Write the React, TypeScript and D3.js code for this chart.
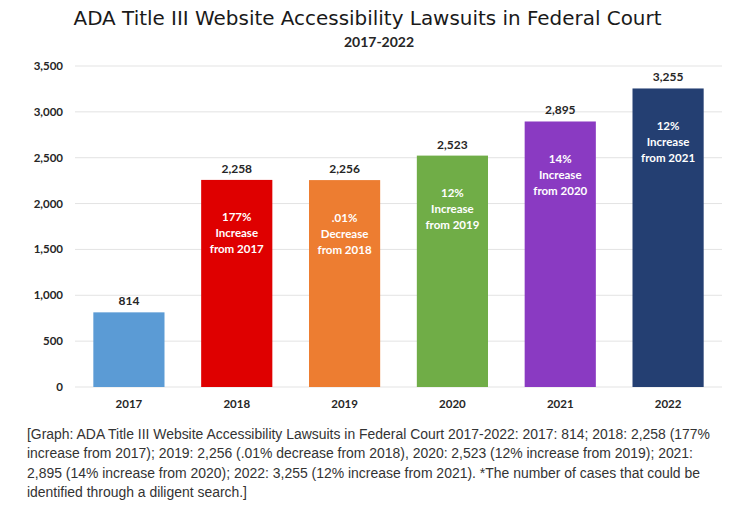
import React from "react";
import * as d3 from "d3";

const years = ["2017", "2018", "2019", "2020", "2021", "2022"];
const values = [814, 2258, 2256, 2523, 2895, 3255];
const barColors = ["#5B9BD5", "#DF0000", "#ED7D31", "#70AD47", "#8A3AC2", "#243F72"];
const noteLines: (string[] | null)[] = [
  null,
  ["177%", "Increase", "from 2017"],
  [".01%", "Decrease", "from 2018"],
  ["12%", "Increase", "from 2019"],
  ["14%", "Increase", "from 2020"],
  ["12%", "Increase", "from 2021"],
];
const yTicks = [0, 500, 1000, 1500, 2000, 2500, 3000, 3500];
const title = "ADA Title III Website Accessibility Lawsuits in Federal Court";
const subtitle = "2017-2022";
const captionLines = [
  "[Graph: ADA Title III Website Accessibility Lawsuits in Federal Court 2017-2022: 2017: 814; 2018: 2,258 (177%",
  "increase from 2017); 2019: 2,256 (.01% decrease from 2018), 2020: 2,523 (12% increase from 2019); 2021:",
  "2,895 (14% increase from 2020); 2022: 3,255 (12% increase from 2021). *The number of cases that could be",
  "identified through a diligent search.]",
];
const captionWidths = [683, 666, 673, 220];

const W = 736;
const H = 514;
const labelFont = "Lato, 'Open Sans', sans-serif";

export default function App() {
  const x = d3
    .scaleBand<string>()
    .domain(years)
    .range([75, 722])
    .paddingInner(0.34)
    .paddingOuter(0.17);
  const y = d3.scaleLinear().domain([0, 3500]).range([387, 66]);
  const fmt = d3.format(",");

  return (
    <svg
      width={W}
      height={H}
      style={{ position: "absolute", left: 0, top: 0, background: "#fff" }}
    >
      <rect x={0} y={0} width={W} height={H} fill="#fff" />
      <text
        x={367.5}
        y={25}
        textAnchor="middle"
        fontFamily="'DejaVu Sans', sans-serif"
        fontSize={20}
        fill="#1a1a1a"
        textLength={588}
        lengthAdjust="spacingAndGlyphs"
      >
        {title}
      </text>
      <text
        x={379}
        y={47}
        textAnchor="middle"
        fontFamily={labelFont}
        fontWeight="bold"
        fontSize={14}
        fill="#262626"
      >
        {subtitle}
      </text>

      {yTicks.map((t) => (
        <g key={t}>
          <line x1={75} x2={722} y1={y(t)} y2={y(t)} stroke="#e3e3e3" strokeWidth={1} />
          <text
            x={63}
            y={y(t) + 4}
            textAnchor="end"
            fontFamily={labelFont}
            fontWeight="bold"
            fontSize={11.5}
            fill="#262626"
          >
            {fmt(t)}
          </text>
        </g>
      ))}

      {years.map((yr, i) => {
        const bx = x(yr) as number;
        const bw = x.bandwidth();
        const top = y(values[i]);
        const cx = bx + bw / 2;
        const notes = noteLines[i];
        return (
          <g key={yr}>
            <rect x={bx} y={top} width={bw} height={y(0) - top} fill={barColors[i]} />
            <text
              x={cx}
              y={top - 7}
              textAnchor="middle"
              fontFamily={labelFont}
              fontWeight="bold"
              fontSize={12}
              fill="#262626"
            >
              {fmt(values[i])}
            </text>
            {notes &&
              notes.map((ln, j) => (
                <text
                  key={j}
                  x={cx}
                  y={top + 41.5 + j * 16}
                  textAnchor="middle"
                  fontFamily={labelFont}
                  fontWeight="bold"
                  fontSize={11.5}
                  fill="#ffffff"
                >
                  {ln}
                </text>
              ))}
            <text
              x={cx}
              y={408}
              textAnchor="middle"
              fontFamily={labelFont}
              fontWeight="bold"
              fontSize={11.5}
              fill="#262626"
            >
              {yr}
            </text>
          </g>
        );
      })}

      {captionLines.map((ln, i) => (
        <text
          key={i}
          x={27}
          y={439 + i * 19.3}
          fontFamily="'Liberation Sans', Arial, sans-serif"
          fontSize={14}
          fill="#333333"
          textLength={captionWidths[i]}
          lengthAdjust="spacingAndGlyphs"
        >
          {ln}
        </text>
      ))}
    </svg>
  );
}
